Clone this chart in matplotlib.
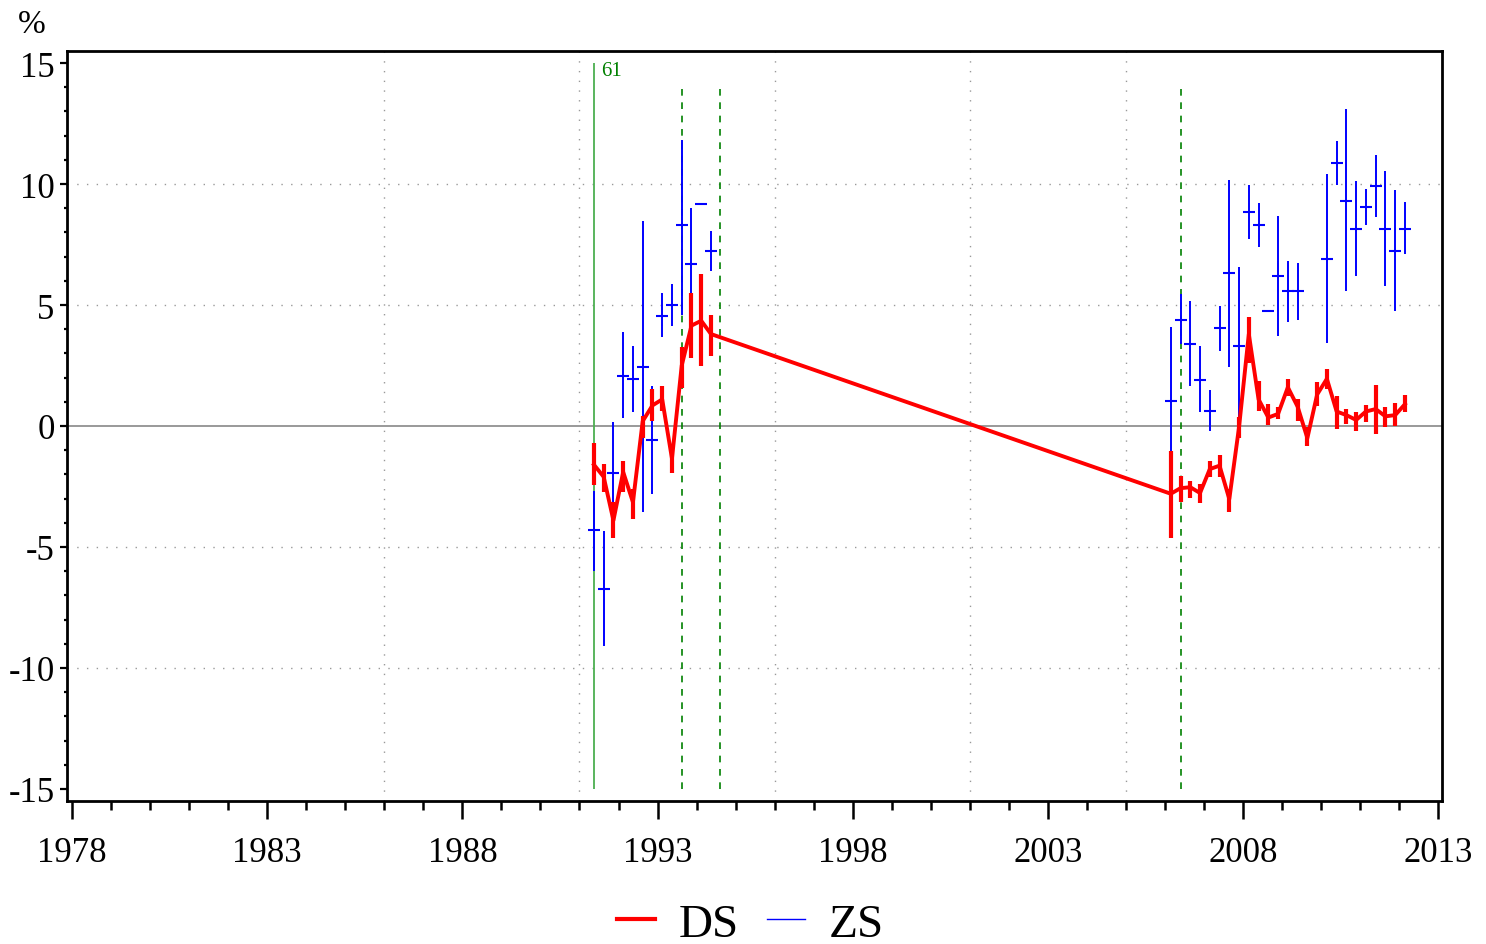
import matplotlib
matplotlib.use("Agg")
import matplotlib.pyplot as plt
from matplotlib.lines import Line2D
from matplotlib.ticker import MultipleLocator
import numpy as np

plt.rcParams['font.family'] = ['Liberation Serif', 'DejaVu Serif']

# quarterly dates (two blocks)
dates = [1991.37, 1991.62, 1991.87, 1992.12, 1992.37, 1992.62, 1992.87, 1993.12,
         1993.37, 1993.62, 1993.87, 1994.12, 1994.37,
         2006.15, 2006.40, 2006.65, 2006.90, 2007.15, 2007.40, 2007.65, 2007.90,
         2008.15, 2008.40, 2008.65, 2008.90, 2009.15, 2009.40, 2009.65, 2009.90,
         2010.15, 2010.40, 2010.65, 2010.90, 2011.15, 2011.40, 2011.65, 2011.90,
         2012.15]

# DS series (red) with low / high
ds = [-1.6, -2.1, -3.9, -1.9, -3.15, 0.2, 0.85, 1.1, -1.35, 2.5, 4.15, 4.35, 3.8,
      -2.8, -2.57, -2.53, -2.77, -1.78, -1.64, -3.02, -0.04, 3.8, 1.1, 0.35, 0.5,
      1.6, 0.8, -0.5, 1.3, 1.95, 0.6, 0.45, 0.25, 0.6, 0.7, 0.4, 0.45, 0.9]
ds_lo = [-2.44, -2.73, -4.63, -2.73, -3.85, -0.5, 0.2, 0.62, -1.94, 1.57, 2.8, 2.5, 2.9,
         -4.63, -3.13, -2.99, -3.2, -2.12, -2.1, -3.54, -0.5, 2.6, 0.62, 0.05, 0.29,
         1.25, 0.2, -0.81, 0.83, 1.53, -0.12, 0.08, -0.19, 0.15, -0.33, -0.04, 0.01, 0.58]
ds_hi = [-0.7, -1.57, -3.14, -1.45, -2.6, 0.4, 1.53, 1.66, -0.83, 3.27, 5.5, 6.3, 4.6,
         -1.02, -2.05, -2.26, -2.4, -1.43, -1.2, -2.6, 0.37, 4.5, 1.86, 0.9, 0.79,
         1.94, 1.12, -0.04, 1.82, 2.36, 1.25, 0.7, 0.58, 0.87, 1.7, 0.79, 0.95, 1.28]

# ZS series (blue) with low / high
nan = np.nan
zs = [-4.3, -6.74, -1.94, 2.07, 1.94, 2.44, -0.58, 4.56, 5.02, 8.32, 6.71, 9.16, 7.25,
      1.05, 4.4, 3.39, 1.9, 0.63, 4.07, 6.32, 3.32, 8.84, 8.32, 4.77, 6.19,
      5.6, 5.56, nan, nan, 6.91, 10.87, 9.32, 8.15, 9.04, 9.9, 8.15, 7.25, 8.15]
zs_lo = [-5.99, -9.1, -4.14, 0.33, 0.58, -3.56, -2.81, 3.68, 4.15, 4.6, 4.43, 9.16, 6.39,
         -1.9, 3.39, 1.65, 0.58, -0.21, 3.1, 2.44, 0.22, 7.74, 7.39, 4.77, 3.73,
         4.31, 4.39, nan, nan, 3.42, 9.95, 5.6, 6.18, 8.29, 8.63, 5.8, 4.74, 7.09]
zs_hi = [-2.69, -4.34, 0.17, 3.89, 3.31, 8.48, 1.66, 5.49, 5.88, 11.8, 9.0, 9.16, 8.07,
         4.1, 5.46, 5.17, 3.31, 1.49, 4.98, 10.15, 6.58, 9.97, 9.23, 4.77, 8.66,
         6.84, 6.74, nan, nan, 10.43, 11.77, 13.09, 10.11, 9.81, 11.19, 10.54, 9.74, 9.25]

event_solid = 1991.37
event_dashed = [1993.63, 1994.6, 2006.41]
vgrid = [1986, 1991, 1996, 2001, 2005]

x = np.array(dates)
ds = np.array(ds); zs = np.array(zs)

fig = plt.figure(figsize=(14.86, 9.45), dpi=100)
ax = fig.add_axes([0.0451, 0.1513, 0.9253, 0.7937])

ax.set_xlim(1977.87, 2013.1)
ax.set_ylim(-15.5, 15.5)

for g in [-10, -5, 5, 10]:
    ax.axhline(g, color='#999999', lw=1, ls=(0, (1, 6)), zorder=0)
for g in vgrid:
    ax.axvline(g, color='#999999', lw=1, ls=(0, (1, 6)), zorder=0)
ax.axhline(0, color='#888888', lw=1.2, zorder=1)

ax.vlines(event_solid, -15, 15, color='#4caf50', lw=1.3, zorder=2)
ax.text(event_solid + 0.18, 14.7, '61', color='green', fontsize=15, va='center', ha='left')
ax.vlines(event_dashed, -15, 14, color='green', lw=1.2, linestyles=(0, (4, 4)), zorder=2)

# ZS
ax.errorbar(x, zs, yerr=[zs - np.array(zs_lo), np.array(zs_hi) - zs], fmt='_',
            color='blue', ecolor='blue', elinewidth=1.4, markersize=9,
            markeredgewidth=1.5, capsize=0, zorder=3)

# DS
ax.vlines(x, ds_lo, ds_hi, color='red', lw=3, zorder=4)
ax.plot(x, ds, color='red', lw=2.8, zorder=5)

ax.xaxis.set_minor_locator(MultipleLocator(1))
ax.set_xticks([1978, 1983, 1988, 1993, 1998, 2003, 2008, 2013])
ax.yaxis.set_minor_locator(MultipleLocator(1))
ax.set_yticks([-15, -10, -5, 0, 5, 10, 15])
ax.set_yticklabels(['-15', '-10', '-5', '0', '5', '10', '15'])

ax.tick_params(axis='x', which='major', direction='out', length=13, width=1.8,
               labelsize=25, pad=12)
ax.tick_params(axis='x', which='minor', direction='out', length=6.5, width=1.8)
ax.tick_params(axis='y', which='major', direction='out', length=5, width=1.6,
               labelsize=25, pad=4)
ax.tick_params(axis='y', which='minor', direction='out', length=2, width=1.6)

for s in ax.spines.values():
    s.set_linewidth(2)

fig.text(0.012, 0.974, '%', fontsize=24, ha='left', va='center')

handles = [Line2D([], [], color='red', lw=3), Line2D([], [], color='blue', lw=1)]
fig.legend(handles, ['DS', 'ZS'], loc='center', bbox_to_anchor=(0.505, 0.021),
           ncol=2, frameon=False, fontsize=34, handlelength=0.8,
           handletextpad=0.5, columnspacing=0.6)

fig.savefig('out.png', dpi=100)
